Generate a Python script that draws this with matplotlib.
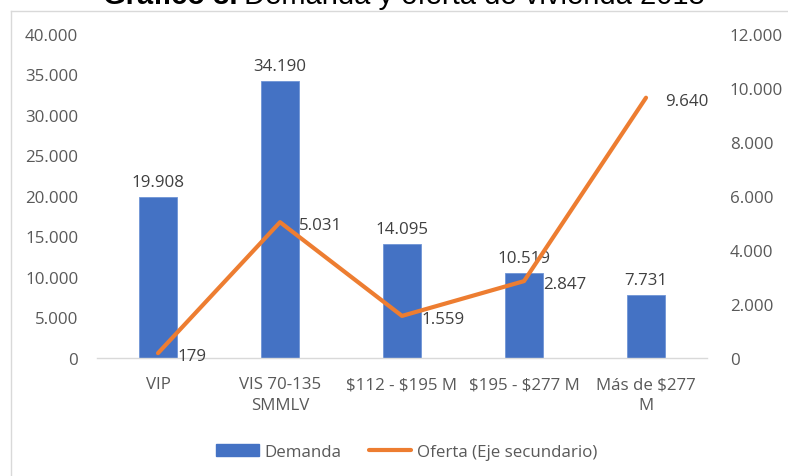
import matplotlib
matplotlib.use("Agg")
import matplotlib.pyplot as plt
from matplotlib import font_manager
from matplotlib.lines import Line2D
from matplotlib.ticker import FuncFormatter
import numpy as np

categories = ["VIP", "VIS 70-135\nSMMLV", "$112 - $195 M", "$195 - $277 M", "Más de $277\nM"]
demanda = [19908, 34190, 14095, 10519, 7731]
oferta = [179, 5031, 1559, 2847, 9640]
left_ticks = [0, 5000, 10000, 15000, 20000, 25000, 30000, 35000, 40000]
right_ticks = [0, 2000, 4000, 6000, 8000, 10000, 12000]
title_bold = "Gráfico 3."
title_rest = " Demanda y oferta de vivienda 2018"
legend_labels = ["Demanda", "Oferta (Eje secundario)"]

plt.rcParams["text.parse_math"] = False
avail = {f.name for f in font_manager.fontManager.ttflist}
body_font = next((f for f in ["Open Sans", "Lato", "Noto Sans", "DejaVu Sans"] if f in avail), "DejaVu Sans")
title_font = next((f for f in ["Liberation Sans", "DejaVu Sans"] if f in avail), "DejaVu Sans")
plt.rcParams["font.family"] = [body_font, "DejaVu Sans"]

BLUE = "#4472C4"
ORANGE = "#ED7D31"
GRAY = "#595959"
LIGHT = "#D9D9D9"
FS = 12.2

W, H = 788, 477
fig = plt.figure(figsize=(W / 100, H / 100), dpi=100)
ax = fig.add_axes([97 / W, (H - 359) / H, (707 - 97) / W, (359 - 35) / H])
ax2 = ax.twinx()

def fmt(v, pos=None):
    return f"{int(v):,}".replace(",", ".")

x = np.arange(len(categories))
ax.bar(x, demanda, width=0.31, color=BLUE, edgecolor="#6F95D6", linewidth=0.6, zorder=2)
ax.set_xlim(-0.5, len(categories) - 0.5)
ax.set_ylim(left_ticks[0], left_ticks[-1])
ax.set_yticks(left_ticks)
ax.yaxis.set_major_formatter(FuncFormatter(fmt))
ax.set_xticks(x)
ax.set_xticklabels(categories, linespacing=1.4)

ax2.set_ylim(right_ticks[0], right_ticks[-1])
ax2.set_yticks(right_ticks)
ax2.yaxis.set_major_formatter(FuncFormatter(fmt))
ax2.plot(x, oferta, color=ORANGE, lw=3.0, solid_capstyle="round", solid_joinstyle="round", zorder=3)

for a in (ax, ax2):
    for s in a.spines.values():
        s.set_visible(False)
    a.tick_params(length=0, labelsize=FS, labelcolor=GRAY)
ax.spines["bottom"].set_visible(True)
ax.spines["bottom"].set_color(LIGHT)
ax.spines["bottom"].set_linewidth(1.0)
ax.tick_params(axis="y", pad=13.5)
ax.tick_params(axis="x", pad=13)
ax2.tick_params(axis="y", pad=16.5)

for xi, v in zip(x, demanda):
    ax.annotate(fmt(v), (xi, v), xytext=(0, 7), textcoords="offset pixels",
                ha="center", va="bottom", fontsize=FS, color="#404040", zorder=1)
for xi, v in zip(x, oferta):
    ax2.annotate(fmt(v), (xi, v), xytext=(19, -3), textcoords="offset pixels",
                 ha="left", va="center", fontsize=FS, color="#404040", zorder=4)

handles = [plt.Rectangle((0, 0), 1, 1, color=BLUE),
           Line2D([0], [0], color=ORANGE, lw=3.0, solid_capstyle="round")]
fig.legend(handles, legend_labels, loc="center", bbox_to_anchor=(407 / W, (H - 453) / H),
           ncol=2, frameon=False, fontsize=FS, handlelength=2.5, handleheight=0.72,
           handletextpad=0.35, columnspacing=1.6, labelcolor=GRAY)

# chart border (partially outside the picture, as in the reference)
fig.add_artist(Line2D([11 / W, 11 / W], [(H - 12) / H, 0], transform=fig.transFigure, color=LIGHT, lw=1.0))
fig.add_artist(Line2D([11 / W, 1.0], [(H - 12) / H, (H - 12) / H], transform=fig.transFigure, color=LIGHT, lw=1.0))

# title, cut off at the top edge as in the reference
fig.text(103 / W, (H - 4.5) / H, title_bold, fontsize=21, fontweight="bold", family=title_font,
         ha="left", va="baseline", color="black")
fig.text(705 / W, (H - 4.5) / H, title_rest, fontsize=21, family=title_font,
         ha="right", va="baseline", color="black")

fig.savefig("out.png", dpi=100)
